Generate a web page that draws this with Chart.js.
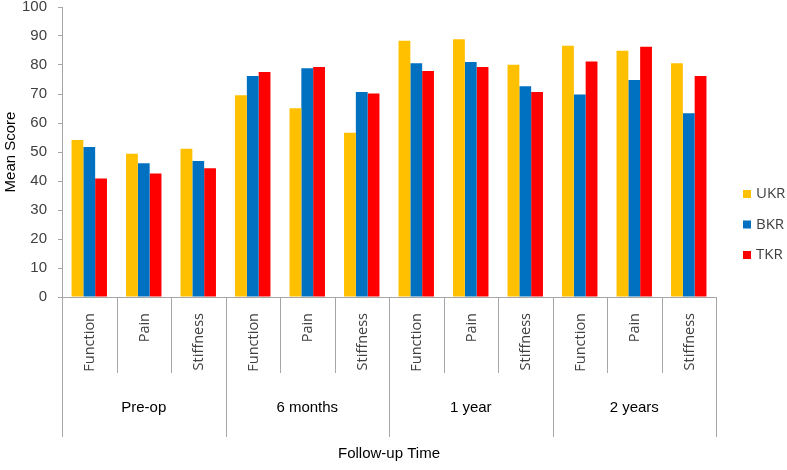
<!DOCTYPE html>
<html>
<head>
<meta charset="utf-8">
<script src="https://cdn.jsdelivr.net/npm/chart.js@4"></script>
<style>
  html, body { margin: 0; padding: 0; background: #fff; }
  #wrap { width: 787px; height: 470px; }
</style>
</head>
<body>
<div id="wrap"><canvas id="mainChart" width="787" height="470"></canvas></div>
<script>
// sub-categories and groups along the x axis
const measures = ['Function', 'Pain', 'Stiffness',
                  'Function', 'Pain', 'Stiffness',
                  'Function', 'Pain', 'Stiffness',
                  'Function', 'Pain', 'Stiffness'];
const timepoints = ['Pre-op', '6 months', '1 year', '2 years'];

// mean scores
const ukr = [54.1, 49.4, 51.1, 69.6, 65.1, 56.6, 88.4, 88.9, 80.1, 86.6, 84.9, 80.6];
const bkr = [51.7, 46.1, 46.9, 76.2, 78.9, 70.7, 80.6, 81.0, 72.7, 69.8, 74.8, 63.4];
const tkr = [40.9, 42.6, 44.4, 77.6, 79.3, 70.2, 77.9, 79.3, 70.7, 81.2, 86.3, 76.2];

const yTicks = [0, 10, 20, 30, 40, 50, 60, 70, 80, 90, 100];

const AXIS_GREY = '#a6a6a6';
const TEXT = '#404040';

// grouped x labels, divider lines and the legend on the right
const groupAxisPlugin = {
    id: 'groupAxis',
    afterDraw(chart) {
        const ctx = chart.ctx;
        const x = chart.scales.x;
        const base = chart.chartArea.bottom;
        const step = (x.right - x.left) / measures.length;

        ctx.save();
        ctx.strokeStyle = AXIS_GREY;
        ctx.lineWidth = 1;
        for (let i = 0; i <= measures.length; i++) {
            const px = Math.round(x.left + i * step) + 0.5;
            const isGroup = i % 3 === 0;
            ctx.beginPath();
            ctx.moveTo(px, base);
            ctx.lineTo(px, isGroup ? base + 140 : base + 76);
            ctx.stroke();
        }

        // rotated measure labels
        ctx.fillStyle = TEXT;
        ctx.font = '14.5px "Open Sans"';
        ctx.textAlign = 'right';
        ctx.textBaseline = 'middle';
        measures.forEach((m, i) => {
            const cx = x.getPixelForValue(i);
            ctx.save();
            ctx.translate(cx + 1, base + 16);
            ctx.rotate(-Math.PI / 2);
            ctx.fillText(m, 0, 0);
            ctx.restore();
        });

        // time point labels
        ctx.fillStyle = '#000';
        ctx.font = '15px "Liberation Sans"';
        ctx.textAlign = 'center';
        timepoints.forEach((t, g) => {
            const cx = x.left + (g * 3 + 1.5) * step;
            ctx.fillText(t, cx, base + 111);
        });

        // axis title
        ctx.fillText('Follow-up Time', (x.left + x.right) / 2, base + 157);

        // legend
        const names = ['UKR', 'BKR', 'TKR'];
        ctx.font = '15px "Open Sans"';
        ctx.textAlign = 'left';
        chart.data.datasets.forEach((ds, k) => {
            const cy = 194 + k * 30.5;
            ctx.fillStyle = ds.backgroundColor;
            ctx.fillRect(743, cy - 4, 8, 8);
            ctx.fillStyle = TEXT;
            ctx.fillText(names[k], 756, cy);
        });
        ctx.restore();
    }
};

const ctx = document.getElementById('mainChart').getContext('2d');
new Chart(ctx, {
    type: 'bar',
    data: {
        labels: measures,
        datasets: [
            { label: 'UKR', data: ukr, backgroundColor: '#FFC000' },
            { label: 'BKR', data: bkr, backgroundColor: '#0070C0' },
            { label: 'TKR', data: tkr, backgroundColor: '#FF0000' }
        ]
    },
    options: {
        responsive: false,
        animation: false,
        devicePixelRatio: 1,
        layout: { padding: { top: 7, right: 71, left: 0, bottom: 0 } },
        datasets: { bar: { categoryPercentage: 0.65, barPercentage: 1.0 } },
        scales: {
            x: {
                grid: { display: false },
                border: { display: true, color: AXIS_GREY },
                ticks: { display: false },
                afterFit(scale) { scale.height = 173; }
            },
            y: {
                min: 0,
                max: 100,
                afterBuildTicks(scale) { scale.ticks = yTicks.map(v => ({ value: v })); },
                afterFit(scale) {
                    scale.width = 62;
                    scale.paddingTop = 0;
                    scale.paddingBottom = 0;
                },
                grid: { drawOnChartArea: false, drawTicks: true, tickLength: 4, color: AXIS_GREY },
                border: { display: true, color: AXIS_GREY },
                ticks: {
                    color: TEXT,
                    padding: 11,
                    font: { family: 'Liberation Sans', size: 15 }
                },
                title: {
                    display: true,
                    text: 'Mean Score',
                    color: '#000',
                    padding: { top: 2, bottom: 0 },
                    font: { family: 'Liberation Sans', size: 15 }
                }
            }
        },
        plugins: {
            legend: { display: false },
            tooltip: { enabled: false }
        }
    },
    plugins: [groupAxisPlugin]
});
</script>
</body>
</html>
